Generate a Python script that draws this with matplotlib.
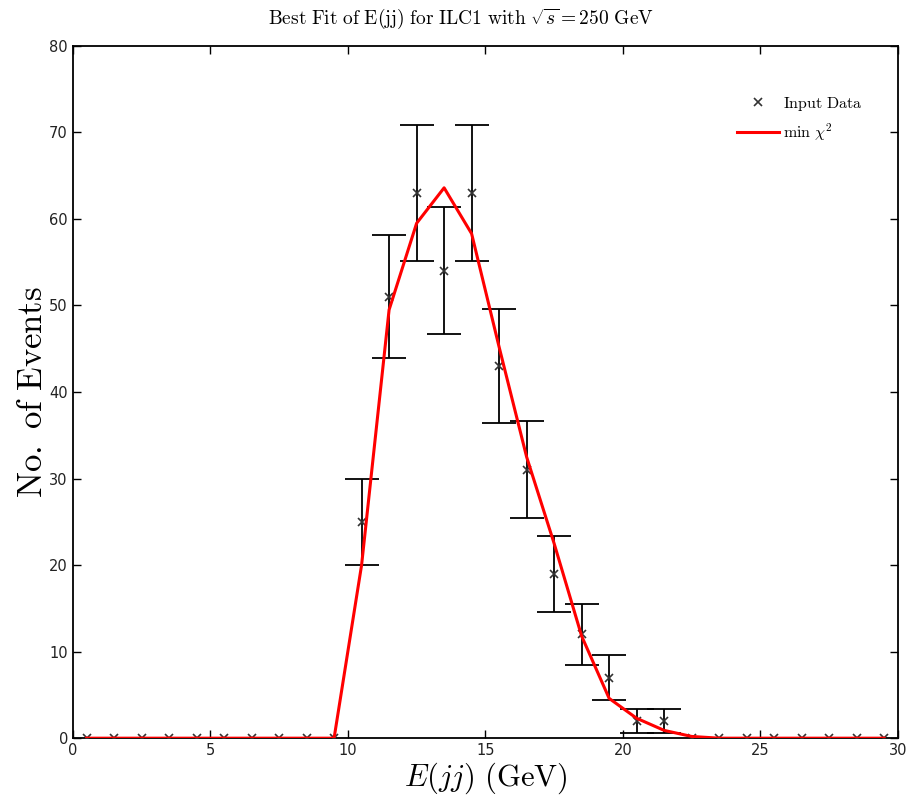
import numpy as np
import matplotlib.pyplot as plt

plt.rcParams['mathtext.fontset'] = 'cm'
plt.rcParams['font.family'] = ['DejaVu Sans']

# ================================= Dados =================================

centros = [0.5, 1.5, 2.5, 3.5, 4.5, 5.5, 6.5, 7.5, 8.5, 9.5,
           10.5, 11.5, 12.5, 13.5, 14.5, 15.5, 16.5, 17.5, 18.5, 19.5,
           20.5, 21.5, 22.5, 23.5, 24.5, 25.5, 26.5, 27.5, 28.5, 29.5]
eventos = [0, 0, 0, 0, 0, 0, 0, 0, 0, 0,
           25, 51, 63, 54, 63, 43, 31, 19, 12, 7,
           2, 2, 0, 0, 0, 0, 0, 0, 0, 0]
erros = [0, 0, 0, 0, 0, 0, 0, 0, 0, 0,
         5.0, 7.1, 7.9, 7.35, 7.9, 6.6, 5.6, 4.4, 3.5, 2.6,
         1.4, 1.4, 0, 0, 0, 0, 0, 0, 0, 0]
ajuste = [0, 0, 0, 0, 0, 0, 0, 0, 0, 0,
          20.0, 49.5, 59.5, 63.6, 58.3, 45.2, 32.5, 22.5, 11.8, 4.6,
          2.3, 0.9, 0.2, 0, 0, 0, 0, 0, 0, 0]

x = np.array(centros)
y = np.array(eventos)
e = np.array(erros)
m = e > 0

# ================================= Gráfico =================================

fig = plt.figure(figsize=(9.21, 8.05), dpi=100)
ax = fig.add_axes([0.079, 0.083, 0.896, 0.860])

ax.errorbar(x[m], y[m], yerr=e[m], fmt='none', ecolor='black', elinewidth=1.3,
            capsize=12.5, capthick=1.3, zorder=2)
ax.plot(x, y, 'x', color='#333333', markersize=6, markeredgewidth=1.2,
        label=r'$\mathrm{Input\ Data}$', zorder=3)
ax.plot(x, ajuste, '-', color='#ff0000', linewidth=2.2,
        label=r'$\mathrm{min}\ \chi^2$', zorder=4)

ax.set_xlim(0, 30)
ax.set_ylim(0, 80)
ax.set_xticks(range(0, 31, 5))
ax.set_yticks(range(0, 81, 10))
ax.tick_params(direction='in', top=True, right=True, length=6, width=1,
               labelsize=10.5, labelcolor='#222222')
for s in ax.spines.values():
    s.set_linewidth(1.3)

# titulo centrado na figura (estilo MATLAB)
fig.text(0.5, 0.977, r'$\mathrm{Best\ Fit\ of\ E(jj)\ for\ ILC1\ with\ }\sqrt{s}=250\ \mathrm{GeV}$',
         fontsize=14, ha='center', va='center')
ax.set_xlabel(r'$E(jj)\ \mathrm{(GeV)}$', fontsize=22, labelpad=2)
ax.set_ylabel(r'$\mathrm{No.\ of\ Events}$', fontsize=25, labelpad=0)

leg = ax.legend(loc='upper right', frameon=False, fontsize=11.5,
                bbox_to_anchor=(0.975, 0.95), handlelength=2.6,
                handletextpad=0.3, labelspacing=0.55)

fig.savefig('out.png', dpi=100)
